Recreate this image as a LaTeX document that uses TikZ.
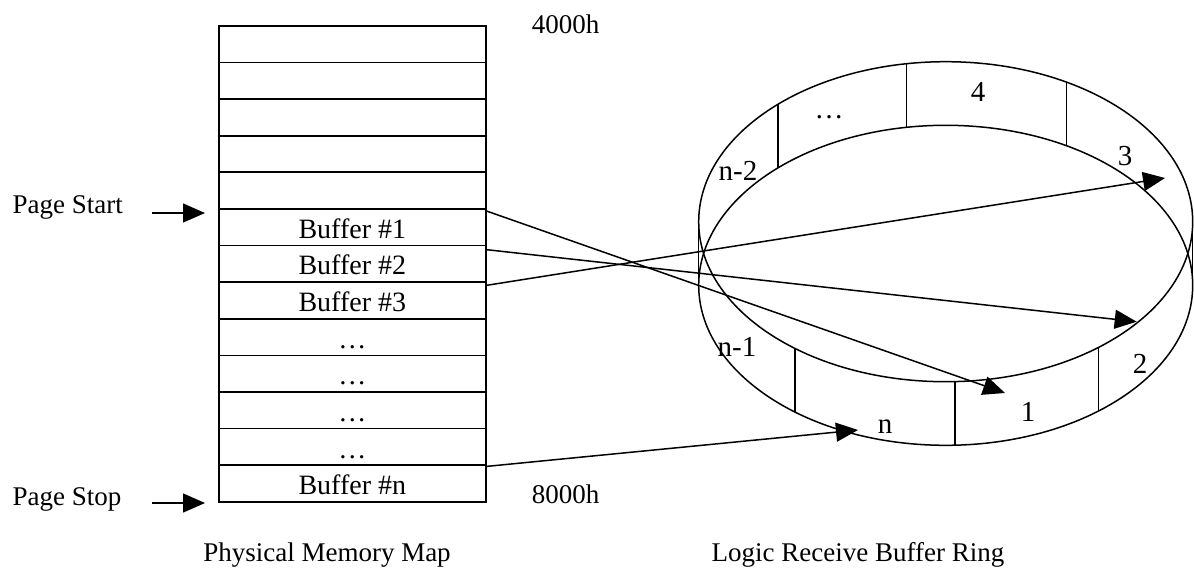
\documentclass[tikz,border=0pt]{standalone}
\usepackage{fontspec}
\setmainfont{Liberation Serif}
\usetikzlibrary{arrows.meta,calc}
\begin{document}
\begin{tikzpicture}[x=1pt,y=-1pt,
  every node/.style={font=\fontsize{27}{31}\selectfont},
  lbl/.style={inner sep=0pt,anchor=base},
  blbl/.style={inner sep=0pt,anchor=base,font=\fontsize{28}{32}\selectfont},
  rlbl/.style={inner sep=0pt,anchor=base,font=\fontsize{29}{33}\selectfont},
  row/.style={draw,line width=1.7pt,minimum width=267pt,minimum height=36.6pt,inner sep=0pt,anchor=north west},
  ln/.style={line width=1.5pt},
  arr/.style={line width=1.5pt,-{Triangle[length=22pt,width=19pt]}}]
\useasboundingbox (0,0) rectangle (1194,568);
% memory map rows
\foreach \i in {1,...,13}{
  \node[row] (r\i) at (218,{25+(\i-1)*36.615}) {};
}
\node[blbl] at ($(r6.south)+(0,-8)$) {Buffer \#1};
\node[blbl] at ($(r7.south)+(0,-8)$) {Buffer \#2};
\node[blbl] at ($(r8.south)+(0,-8)$) {Buffer \#3};
\foreach \i in {9,...,12}{\node[blbl] at ($(r\i.south)+(0,-8)$) {…};}
\node[blbl] at ($(r13.south)+(0,-8)$) {Buffer \#n};
% side labels
\node[lbl,anchor=base west] (ps) at (12.5,213) {Page Start};
\node[lbl,anchor=base west] (pe) at (12.5,505) {Page Stop};
\coordinate (psa) at (152,213);
\coordinate (psb) at (205,213);
\coordinate (pea) at (152,503);
\coordinate (peb) at (205,503);
\draw[arr] (psa) -- (psb);
\draw[arr] (pea) -- (peb);
\node[lbl] (h4) at (565.5,33.3) {4000h};
\node[lbl] (h8) at (565.5,503.3) {8000h};
\node[lbl] (cap1) at (327,561.7) {Physical Memory Map};
\node[lbl] (cap2) at (858,561.7) {Logic Receive Buffer Ring};
% ring
\coordinate (ct) at (945.7,221.7);
\coordinate (cb) at (945.7,285.3);
\draw[ln] (ct) ellipse [x radius=247pt, y radius=160pt];
\draw[ln] (cb) ellipse [x radius=247pt, y radius=160pt];
\draw[ln] ($(ct)+(-247pt,0)$) -- ($(cb)+(-247pt,0)$);
\draw[ln] ($(ct)+(247pt,0)$) -- ($(cb)+(247pt,0)$);
\foreach \a in {132.8,99.1,60.7,-127.6,-87.8,-51.8}{
  \draw[ln] ($(ct)+(\a:247pt and 160pt)$) -- ($(cb)+(\a:247pt and 160pt)$);
}
\node[rlbl] (s4) at (978,101.7) {4};
\node[rlbl] (sd) at (829,118) {…};
\node[rlbl] (sn2) at (738,180.7) {n-2};
\node[rlbl] (s3) at (1125,165) {3};
\node[rlbl] (sn1) at (737,356.7) {n-1};
\node[rlbl] (s2) at (1140,373) {2};
\node[rlbl] (s1) at (1028,421.7) {1};
\node[rlbl] (sn) at (885,433) {n};
% arrows
\coordinate (t1) at (1005,393);
\coordinate (t2) at (1136.7,321.7);
\coordinate (t3) at (1165,178);
\coordinate (tn) at (858,430);
\draw[arr] ([yshift=-3pt]r6.north east) -- (t1);
\draw[arr] ([yshift=-5pt]r7.north east) -- (t2);
\draw[arr] ([yshift=-4pt]r8.north east) -- (t3);
\draw[arr] ([yshift=-2pt]r13.north east) -- (tn);
\end{tikzpicture}
\end{document}
